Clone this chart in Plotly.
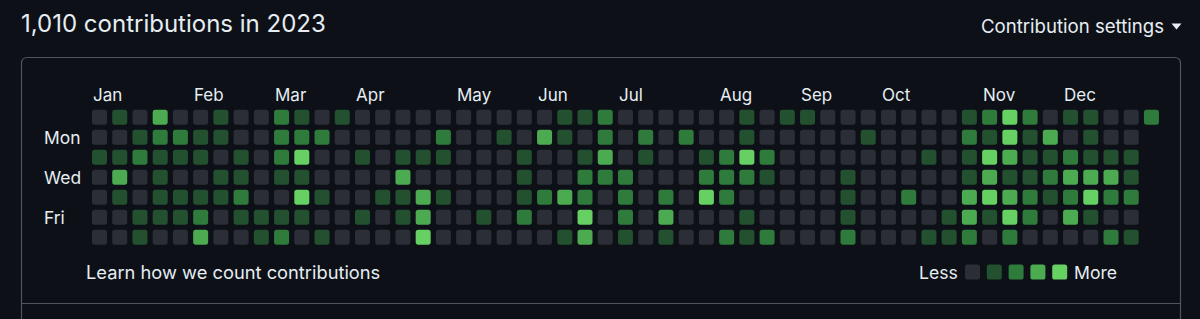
import plotly.graph_objects as go

W, H = 1200, 319

# ---- data: contribution level (0-4) per week column, one list per weekday ----
weeks = list(range(53))
days = ["Sun", "Mon", "Tue", "Wed", "Thu", "Fri", "Sat"]
sun = [0,1,0,3,0,0,1,0,0, 2,1,0,1,0,0,0,0,0, 0,0,0,0,0,1,1,2,0, 0,0,0,0,0,1,0,1,1, 0,0,0,0,0,0,0,1,2, 4,2,0,1,1,0,0,2]
mon = [0,0,1,2,2,1,1,0,0, 2,2,2,0,0,0,0,0,2, 0,0,1,0,3,1,0,2,0, 2,0,2,0,0,1,0,0,0, 0,0,1,0,0,0,0,2,1, 4,1,3,0,1,0,0]
tue = [1,1,2,1,1,1,0,1,0, 2,4,0,0,1,0,1,1,1, 0,0,0,1,0,0,1,3,0, 1,0,0,1,2,4,2,0,0, 0,0,0,0,0,1,0,1,4, 3,1,1,2,1,1,1]
wed = [0,3,0,1,0,0,1,1,0, 1,1,0,0,0,0,3,0,0, 0,0,0,1,0,0,2,2,2, 0,0,0,2,2,2,1,0,0, 0,1,0,0,0,0,0,1,3, 1,1,2,3,3,3,1]
thu = [0,1,0,1,1,1,1,2,0, 0,4,1,0,0,1,1,3,1, 0,0,0,1,2,3,2,0,2, 0,2,0,4,2,0,0,0,0, 0,1,0,0,2,0,0,3,4, 3,2,1,2,4,2,2]
fri = [0,0,1,1,1,2,0,1,1, 1,1,0,0,1,0,1,3,0, 0,1,0,2,0,0,4,0,2, 0,3,0,0,0,1,0,0,0, 0,1,0,0,0,0,1,3,1, 4,2,0,3,1,0,0]
sat = [0,0,1,0,0,3,0,0,1, 2,0,1,0,0,0,0,4,0, 0,0,0,0,0,1,3,0,1, 0,1,0,0,2,1,2,0,0, 0,2,0,0,0,1,1,2,0, 2,0,0,0,0,2,1]
levels_by_day = [sun, mon, tue, wed, thu, fri, sat]

month_labels = ["Jan", "Feb", "Mar", "Apr", "May", "Jun", "Jul", "Aug", "Sep", "Oct", "Nov", "Dec"]
month_weeks = [0, 5, 9, 13, 18, 22, 26, 31, 35, 39, 44, 48]
day_labels = ["Mon", "Wed", "Fri"]
day_rows = [1, 3, 5]
legend_levels = [0, 1, 2, 3, 4]

# ---- style ----
BG = "#0d1117"
TXT = "#e6edf3"
BORDER = "#50555d"
LEVEL_COLORS = ["#2b2e36", "#23502f", "#2e7b3c", "#4caa50", "#66d062"]
FONT = "Inter, Roboto, sans-serif"

# pixel geometry of the grid
X0, PITCH_X = 99.5, 20.23
Y0, PITCH_Y = 117.2, 20.0
CELL = 15.0
RAD = 2.6

xr = [(0 - X0) / PITCH_X, (W - X0) / PITCH_X]
yr = [(H - Y0) / PITCH_Y, (0 - Y0) / PITCH_Y]

def px(x):
    return x / W

def py(y):
    return 1 - y / H

def rrect(x0, y0, x1, y1, rx, ry):
    return (f"M{x0+rx},{y0} L{x1-rx},{y0} Q{x1},{y0} {x1},{y0+ry} "
            f"L{x1},{y1-ry} Q{x1},{y1} {x1-rx},{y1} L{x0+rx},{y1} "
            f"Q{x0},{y1} {x0},{y1-ry} L{x0},{y0+ry} Q{x0},{y0} {x0+rx},{y0} Z")

shapes = []
xs, ys, cs = [], [], []
hx = CELL / 2 / PITCH_X
hy = CELL / 2 / PITCH_Y
rx = RAD / PITCH_X
ry = RAD / PITCH_Y
for r, row in enumerate(levels_by_day):
    for c, lv in enumerate(row):
        x, y = weeks[c], r
        xs.append(x); ys.append(y); cs.append(lv)
        shapes.append(dict(type="path", xref="x", yref="y",
                           path=rrect(x - hx, y - hy, x + hx, y + hy, rx, ry),
                           fillcolor=LEVEL_COLORS[lv], line=dict(width=0), layer="above"))

fig = go.Figure()
fig.add_trace(go.Scatter(x=xs, y=ys, mode="markers",
                         marker=dict(size=15, symbol="square", opacity=0),
                         customdata=cs, hovertemplate="week %{x}, day %{y}: level %{customdata}<extra></extra>",
                         showlegend=False))

# outer box (rounded top corners, extends past bottom)
bx0, bx1, by0, by1, br = 21.5, 1180.5, 57.5, 340, 6
shapes.append(dict(type="path", xref="paper", yref="paper",
                   path=(f"M{px(bx0)},{py(by1)} L{px(bx0)},{py(by0+br)} Q{px(bx0)},{py(by0)} {px(bx0+br)},{py(by0)} "
                         f"L{px(bx1-br)},{py(by0)} Q{px(bx1)},{py(by0)} {px(bx1)},{py(by0+br)} L{px(bx1)},{py(by1)}"),
                   line=dict(color=BORDER, width=1.2)))
shapes.append(dict(type="line", xref="paper", yref="paper",
                   x0=px(bx0), x1=px(bx1), y0=py(303.5), y1=py(303.5),
                   line=dict(color=BORDER, width=1.2)))

# settings dropdown caret
shapes.append(dict(type="path", xref="paper", yref="paper",
                   path=f"M{px(1171.5)},{py(23.5)} L{px(1181.5)},{py(23.5)} L{px(1176.5)},{py(29.5)} Z",
                   fillcolor=TXT, line=dict(width=0)))

# legend swatches
leg_cx = [972.5, 994.3, 1016.1, 1037.9, 1059.7]
for i, lv in enumerate(legend_levels):
    cx, cy = leg_cx[i], 272
    shapes.append(dict(type="path", xref="paper", yref="paper",
                       path=rrect(px(cx - 7.5), py(cy - 7.5), px(cx + 7.5), py(cy + 7.5), px(RAD), -RAD / H),
                       fillcolor=LEVEL_COLORS[lv], line=dict(width=0)))

ann = []
ann.append(dict(text="1,010 contributions in 2023", x=px(18.5), y=py(24), xref="paper", yref="paper",
                xanchor="left", yanchor="middle", showarrow=False, font=dict(size=24, color=TXT, family=FONT)))
ann.append(dict(text="Contribution settings", x=px(1166), y=py(26), xref="paper", yref="paper",
                xanchor="right", yanchor="middle", showarrow=False, font=dict(size=18.6, color=TXT, family=FONT)))
for m, wk in zip(month_labels, month_weeks):
    ann.append(dict(text=m, x=wk - hx, y=py(95), xref="x", yref="paper", xanchor="left", yanchor="middle",
                    showarrow=False, font=dict(size=17, color=TXT, family=FONT), borderpad=0))
for d, rw in zip(day_labels, day_rows):
    ann.append(dict(text=d, x=px(43), y=rw, xref="paper", yref="y", xanchor="left", yanchor="middle",
                    showarrow=False, font=dict(size=17.4, color=TXT, family=FONT), borderpad=0))
ann.append(dict(text="Learn how we count contributions", x=px(83.5), y=py(272), xref="paper", yref="paper",
                xanchor="left", yanchor="middle", showarrow=False, font=dict(size=18.3, color=TXT, family=FONT)))
ann.append(dict(text="Less", x=px(959.5), y=py(272), xref="paper", yref="paper",
                xanchor="right", yanchor="middle", showarrow=False, font=dict(size=17.6, color=TXT, family=FONT)))
ann.append(dict(text="More", x=px(1072), y=py(272), xref="paper", yref="paper",
                xanchor="left", yanchor="middle", showarrow=False, font=dict(size=17.6, color=TXT, family=FONT)))

fig.update_layout(
    width=W, height=H, margin=dict(l=0, r=0, t=0, b=0),
    paper_bgcolor=BG, plot_bgcolor=BG,
    xaxis=dict(range=xr, visible=False, fixedrange=True),
    yaxis=dict(range=yr, visible=False, fixedrange=True),
    shapes=shapes, annotations=ann, showlegend=False,
)
fig.write_html("out.html")
